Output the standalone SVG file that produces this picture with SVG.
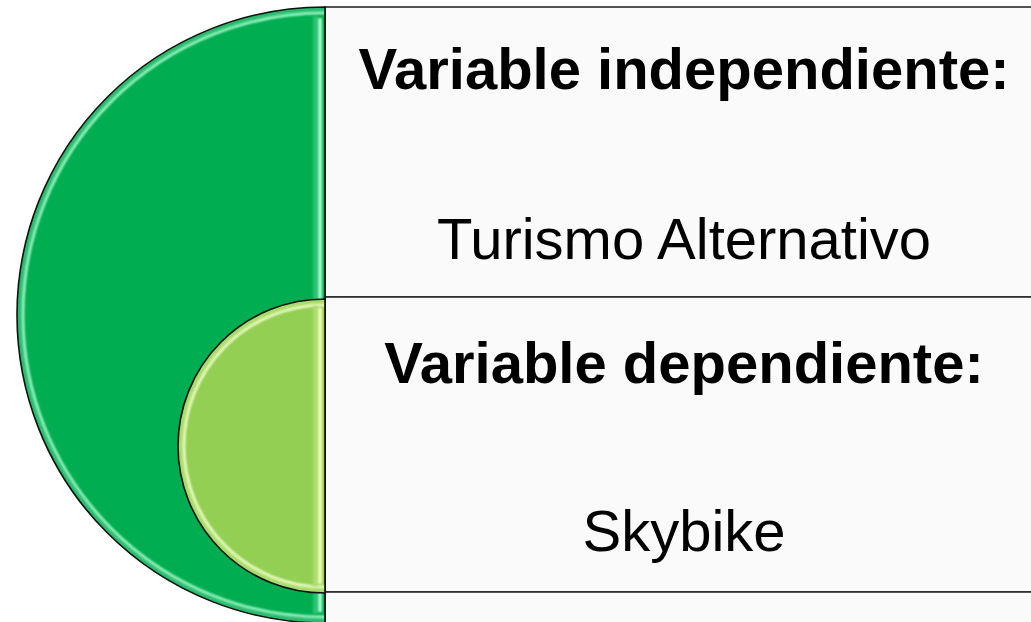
<svg xmlns="http://www.w3.org/2000/svg" width="1031" height="622" viewBox="0 0 1031 622">
<style>
.box{fill:#fafafa;stroke:#2a2a2a;stroke-width:1.6}
.edge{fill:none;stroke:#111;stroke-width:1.6}
.t{font-family:"Liberation Sans",Arial,sans-serif;font-size:58px;fill:#000;text-anchor:middle}
.b{font-weight:bold}
.hl{fill:none}
</style>
<defs>
<filter id="blur" filterUnits="userSpaceOnUse" x="0" y="0" width="1031" height="622"><feGaussianBlur stdDeviation="1"/></filter>
<clipPath id="cOuter"><path d="M325,7 A308,308 0 0 0 325,623 Z"/></clipPath>
<clipPath id="cInner"><path d="M325,299 A147,147 0 0 0 325,593 Z"/></clipPath>
</defs>
<rect width="1031" height="622" fill="#ffffff"/>
<g id="box1">
<rect class="box" x="325" y="7" width="730" height="290"/>
<text class="t b" x="684" y="89">Variable independiente:</text>
<text class="t" x="684" y="259">Turismo Alternativo</text>
</g>
<g id="box2">
<rect class="box" x="325" y="297" width="730" height="295"/>
<text class="t b" x="684" y="383">Variable dependiente:</text>
<text class="t" x="684" y="551">Skybike</text>
</g>
<g id="box3">
<rect class="box" x="325" y="592" width="730" height="60"/>
</g>
<g id="outer">
<path d="M325,7 A308,308 0 0 0 325,623 Z" fill="#00ad50"/>
<g clip-path="url(#cOuter)">
<circle class="hl" cx="325" cy="315" r="305" stroke="#2bbd6e" stroke-width="6" filter="url(#blur)"/>
<circle class="hl" cx="325" cy="315" r="302" stroke="#a6fbcc" stroke-width="2.5" filter="url(#blur)"/>
<rect x="313" y="16" width="5" height="598" fill="#2fc272" filter="url(#blur)"/>
<rect x="318" y="18" width="4" height="594" fill="#a6fbcc" filter="url(#blur)"/>
</g>
<path d="M325,7 A308,308 0 0 0 325,623 Z" class="edge"/>
</g>
<g id="inner">
<path d="M325,299 A147,147 0 0 0 325,593 Z" fill="#93cf53"/>
<g clip-path="url(#cInner)">
<circle class="hl" cx="325" cy="446" r="144" stroke="#a9dc6c" stroke-width="6" filter="url(#blur)"/>
<circle class="hl" cx="325" cy="446" r="141" stroke="#f2ffcc" stroke-width="2.5" filter="url(#blur)"/>
<rect x="313" y="306" width="5" height="280" fill="#acdf70" filter="url(#blur)"/>
<rect x="318" y="308" width="4" height="276" fill="#f0ffb8" filter="url(#blur)"/>
</g>
<path d="M325,299 A147,147 0 0 0 325,593 Z" class="edge"/>
</g>
</svg>
